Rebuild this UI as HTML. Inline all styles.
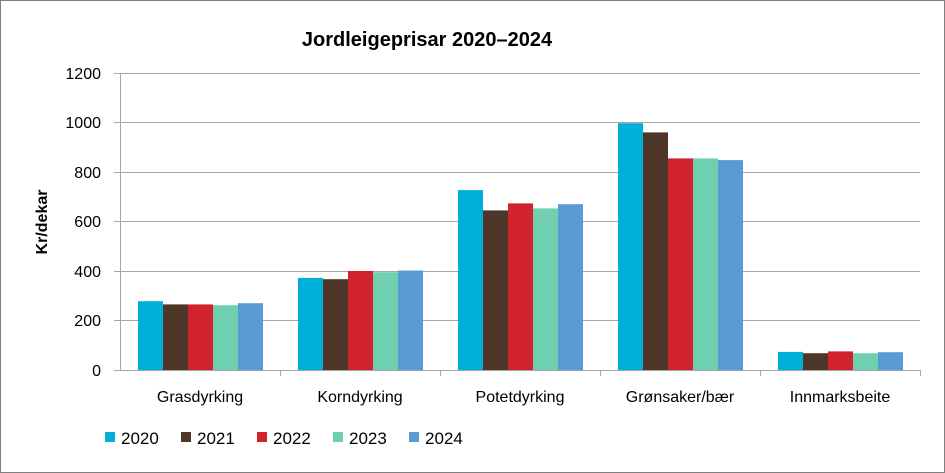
<!DOCTYPE html>
<html><head><meta charset="utf-8"><style>
body{margin:0;background:#fff}
svg{display:block;font-family:"Liberation Sans",sans-serif}
</style></head><body>
<svg width="945" height="473" viewBox="0 0 945 473">
<rect x="0.5" y="0.5" width="944" height="472" fill="#fff" stroke="#7f7f7f"/>
<text x="427" y="46" text-anchor="middle" font-size="20" font-weight="bold" fill="#000">Jordleigeprisar 2020–2024</text>
<g stroke="#a6a6a6" stroke-width="1">
<line x1="120" y1="73.5" x2="920" y2="73.5"/>
<line x1="120" y1="122.5" x2="920" y2="122.5"/>
<line x1="120" y1="172.5" x2="920" y2="172.5"/>
<line x1="120" y1="221.5" x2="920" y2="221.5"/>
<line x1="120" y1="271.5" x2="920" y2="271.5"/>
<line x1="120" y1="320.5" x2="920" y2="320.5"/>
<line x1="120.5" y1="73" x2="120.5" y2="370"/>
<line x1="120" y1="370.5" x2="920" y2="370.5"/>
<line x1="280.5" y1="370" x2="280.5" y2="376"/>
<line x1="440.5" y1="370" x2="440.5" y2="376"/>
<line x1="600.5" y1="370" x2="600.5" y2="376"/>
<line x1="760.5" y1="370" x2="760.5" y2="376"/>
<line x1="920.5" y1="370" x2="920.5" y2="376"/>
<line x1="114" y1="73.5" x2="120" y2="73.5"/>
<line x1="114" y1="122.5" x2="120" y2="122.5"/>
<line x1="114" y1="172.5" x2="120" y2="172.5"/>
<line x1="114" y1="221.5" x2="120" y2="221.5"/>
<line x1="114" y1="271.5" x2="120" y2="271.5"/>
<line x1="114" y1="320.5" x2="120" y2="320.5"/>
<line x1="114" y1="370.5" x2="120" y2="370.5"/>
</g>
<g font-size="16" fill="#000" text-anchor="end">
<text x="101" y="79">1200</text><text x="101" y="128">1000</text><text x="101" y="178">800</text>
<text x="101" y="227">600</text><text x="101" y="277">400</text><text x="101" y="326">200</text><text x="101" y="376">0</text>
</g>
<text transform="translate(47,222) rotate(-90)" text-anchor="middle" font-size="16" font-weight="bold">Kr/dekar</text>
<g font-size="16" fill="#000" text-anchor="middle">
<text x="200" y="402">Grasdyrking</text><text x="360" y="402">Korndyrking</text><text x="520" y="402">Potetdyrking</text>
<text x="680" y="402">Grønsaker/bær</text><text x="840" y="402">Innmarksbeite</text>
</g>
<g>
<rect x="138" y="301.2" width="25" height="68.8" fill="#00B0DA"/>
<rect x="163" y="304.4" width="25" height="65.6" fill="#4E3629"/>
<rect x="188" y="304.4" width="25" height="65.6" fill="#D1232E"/>
<rect x="213" y="305.2" width="25" height="64.8" fill="#6FCFB0"/>
<rect x="238" y="303.2" width="25" height="66.8" fill="#5B9BD5"/>
<rect x="298" y="277.9" width="25" height="92.1" fill="#00B0DA"/>
<rect x="323" y="279.2" width="25" height="90.8" fill="#4E3629"/>
<rect x="348" y="271" width="25" height="99" fill="#D1232E"/>
<rect x="373" y="272.2" width="25" height="97.8" fill="#6FCFB0"/>
<rect x="398" y="270.5" width="25" height="99.5" fill="#5B9BD5"/>
<rect x="458" y="190.1" width="25" height="179.9" fill="#00B0DA"/>
<rect x="483" y="210.4" width="25" height="159.6" fill="#4E3629"/>
<rect x="508" y="203.4" width="25" height="166.6" fill="#D1232E"/>
<rect x="533" y="208.4" width="25" height="161.6" fill="#6FCFB0"/>
<rect x="558" y="204.2" width="25" height="165.8" fill="#5B9BD5"/>
<rect x="618" y="123.2" width="25" height="246.8" fill="#00B0DA"/>
<rect x="643" y="132.4" width="25" height="237.6" fill="#4E3629"/>
<rect x="668" y="158.4" width="25" height="211.6" fill="#D1232E"/>
<rect x="693" y="158.4" width="25" height="211.6" fill="#6FCFB0"/>
<rect x="718" y="160.1" width="25" height="209.9" fill="#5B9BD5"/>
<rect x="778" y="351.9" width="25" height="18.1" fill="#00B0DA"/>
<rect x="803" y="353.2" width="25" height="16.8" fill="#4E3629"/>
<rect x="828" y="351.4" width="25" height="18.6" fill="#D1232E"/>
<rect x="853" y="353.2" width="25" height="16.8" fill="#6FCFB0"/>
<rect x="878" y="352.2" width="25" height="17.8" fill="#5B9BD5"/>
</g>
<g font-size="17" fill="#000">
<rect x="105" y="432" width="10" height="10" fill="#00B0DA"/><text x="121" y="444">2020</text>
<rect x="181" y="432" width="10" height="10" fill="#4E3629"/><text x="197" y="444">2021</text>
<rect x="257" y="432" width="10" height="10" fill="#D1232E"/><text x="273" y="444">2022</text>
<rect x="333" y="432" width="10" height="10" fill="#6FCFB0"/><text x="349" y="444">2023</text>
<rect x="409" y="432" width="10" height="10" fill="#5B9BD5"/><text x="425" y="444">2024</text>
</g>
</svg>
</body></html>
